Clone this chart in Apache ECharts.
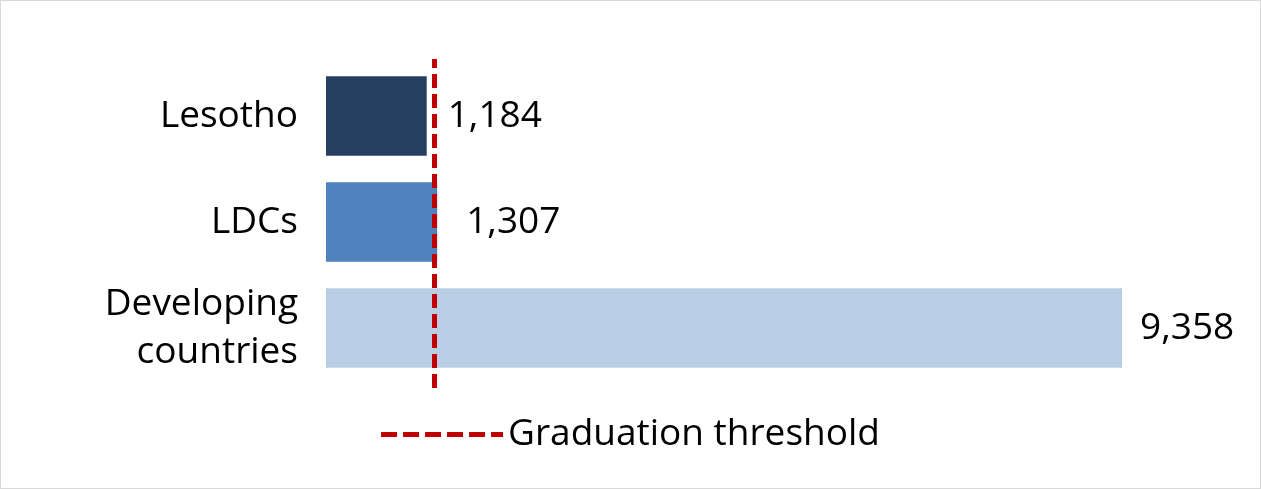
<!DOCTYPE html>
<html><head><meta charset="utf-8">
<script src="https://cdn.jsdelivr.net/npm/echarts@6/dist/echarts.min.js"></script>
<style>html,body{margin:0;padding:0;background:#fff}#c{width:1259px;height:487px;border:1px solid #D9D9D9}</style>
</head><body><div id="c"></div>
<script>
const categories = ['Developing\ncountries', 'LDCs', 'Lesotho'];
const values = [9358, 1307, 1184];
const colors = ['#B9CDE5', '#4F81BD', '#243F60'];
const labelDistances = [18, 29, 21];
const threshold = 1270;
const thresholdName = 'Graduation threshold';

const chart = echarts.init(document.getElementById('c'));
chart.setOption({
  animation: false,
  textStyle: {fontFamily: 'Open Sans'},
  grid: {left: 325, right: 138, top: 62, bottom: 107},
  xAxis: {type: 'value', min: 0, max: 9358, show: false},
  yAxis: {type: 'category', data: categories, axisLine: {show: false}, axisTick: {show: false},
    axisLabel: {fontSize: 37, color: '#000', margin: 28, lineHeight: 48, align: 'right'}},
  legend: {bottom: 30, left: 'center', itemWidth: 122, itemHeight: 5, itemGap: 10,
    textStyle: {fontSize: 37, color: '#000'}, data: [{name: thresholdName, icon: 'path://M0,0 L16,0 L16,5 L0,5 Z M22,0 L38,0 L38,5 L22,5 Z M44,0 L60,0 L60,5 L44,5 Z M66,0 L82,0 L82,5 L66,5 Z M88,0 L104,0 L104,5 L88,5 Z M110,0 L122,0 L122,5 L110,5 Z', itemStyle: {color: '#C00000'}}]},
  series: [
    {type: 'bar', barCategoryGap: '25%',
      data: values.map((v, i) => ({value: v, itemStyle: {color: colors[i]},
        label: {show: true, position: 'right', distance: labelDistances[i]}})),
      label: {fontSize: 37, color: '#000', formatter: p => p.value.toLocaleString('en-US')}},
    {type: 'line', name: thresholdName, data: [], symbol: 'none',
      lineStyle: {color: '#C00000', type: 'dashed', width: 5},
      markLine: {silent: true, symbol: 'none', label: {show: false},
        lineStyle: {color: '#C00000', type: [14, 6], width: 5},
        data: [[{coord: [threshold, 0], y: 387}, {coord: [threshold, 2], y: 58}]]}}
  ]
});
</script></body></html>
